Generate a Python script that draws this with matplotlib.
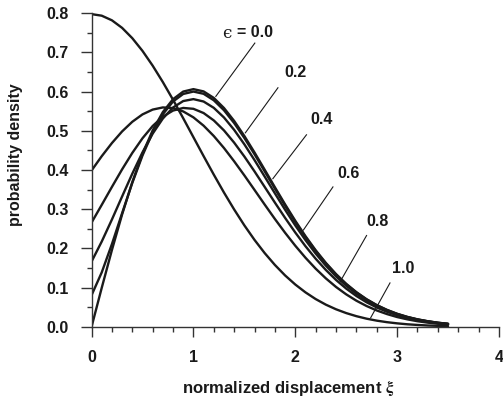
import matplotlib
matplotlib.use('Agg')
import matplotlib.pyplot as plt
from matplotlib.ticker import MultipleLocator

plt.rcParams['font.family'] = ['Liberation Sans', 'DejaVu Sans']
plt.rcParams['font.weight'] = 'bold'
plt.rcParams['mathtext.fontset'] = 'stix'

# normalized displacement grid
xi = [0.0, 0.1, 0.2, 0.3, 0.4, 0.5, 0.6, 0.7, 0.8, 0.9,
      1.0, 1.1, 1.2, 1.3, 1.4, 1.5, 1.6, 1.7, 1.8, 1.9,
      2.0, 2.1, 2.2, 2.3, 2.4, 2.5, 2.6, 2.7, 2.8, 2.9,
      3.0, 3.1, 3.2, 3.3, 3.4, 3.5]

# probability density, one list per epsilon
p_00 = [0.0, 0.0995, 0.1960, 0.2868, 0.3692, 0.4412, 0.5012, 0.5479, 0.5809, 0.6003,
        0.6065, 0.6007, 0.5841, 0.5584, 0.5254, 0.4870, 0.4449, 0.4008, 0.3562, 0.3125,
        0.2707, 0.2315, 0.1956, 0.1633, 0.1347, 0.1098, 0.0885, 0.0705, 0.0556, 0.0433,
        0.0333, 0.0254, 0.0191, 0.0143, 0.0105, 0.0077]
p_02 = [0.0806, 0.1389, 0.2111, 0.2899, 0.3672, 0.4371, 0.4962, 0.5423, 0.5750, 0.5942,
        0.6003, 0.5946, 0.5781, 0.5527, 0.5200, 0.4820, 0.4404, 0.3967, 0.3526, 0.3093,
        0.2679, 0.2291, 0.1936, 0.1616, 0.1333, 0.1087, 0.0876, 0.0698, 0.0550, 0.0429,
        0.0330, 0.0251, 0.0189, 0.0142, 0.0104, 0.0076]
p_04 = [0.1665, 0.2176, 0.2738, 0.3326, 0.3907, 0.4451, 0.4929, 0.5315, 0.5596, 0.5761,
        0.5810, 0.5749, 0.5588, 0.5342, 0.5026, 0.4658, 0.4255, 0.3833, 0.3407, 0.2989,
        0.2589, 0.2214, 0.1871, 0.1562, 0.1288, 0.1050, 0.0846, 0.0674, 0.0532, 0.0414,
        0.0318, 0.0243, 0.0183, 0.0137, 0.0100, 0.0074]
p_06 = [0.2660, 0.3112, 0.3570, 0.4018, 0.4437, 0.4811, 0.5124, 0.5363, 0.5518, 0.5585,
        0.5563, 0.5455, 0.5267, 0.5012, 0.4700, 0.4347, 0.3966, 0.3569, 0.3170, 0.2780,
        0.2407, 0.2058, 0.1739, 0.1452, 0.1197, 0.0976, 0.0787, 0.0627, 0.0494, 0.0385,
        0.0296, 0.0226, 0.0170, 0.0127, 0.0093, 0.0068]
p_08 = [0.3989, 0.4354, 0.4689, 0.4986, 0.5232, 0.5420, 0.5543, 0.5598, 0.5581, 0.5496,
        0.5345, 0.5133, 0.4869, 0.4563, 0.4224, 0.3865, 0.3493, 0.3119, 0.2752, 0.2401,
        0.2070, 0.1764, 0.1485, 0.1237, 0.1018, 0.0829, 0.0667, 0.0531, 0.0418, 0.0326,
        0.0250, 0.0191, 0.0143, 0.0107, 0.0079, 0.0058]
p_10 = [0.7979, 0.7939, 0.7821, 0.7628, 0.7365, 0.7041, 0.6664, 0.6245, 0.5794, 0.5322,
        0.4839, 0.4357, 0.3884, 0.3427, 0.2995, 0.2590, 0.2218, 0.1881, 0.1579, 0.1312,
        0.1080, 0.0880, 0.0709, 0.0566, 0.0448, 0.0351, 0.0272, 0.0208, 0.0158, 0.0119,
        0.0089, 0.0065, 0.0048, 0.0034, 0.0025, 0.0017]

curves = [p_00, p_02, p_04, p_06, p_08, p_10]
labels = ['= 0.0', '0.2', '0.4', '0.6', '0.8', '1.0']

# label text position and leader line (text end, curve end) in data units
label_pos = [(1.60, 0.750), (2.0, 0.650), (2.262, 0.528), (2.527, 0.390), (2.812, 0.268), (3.057, 0.148)]
leader = [((1.603, 0.724), (1.22, 0.588)),
          ((1.83, 0.610), (1.51, 0.495)),
          ((2.11, 0.490), (1.78, 0.378)),
          ((2.37, 0.357), (2.08, 0.247)),
          ((2.70, 0.233), (2.44, 0.115)),
          ((2.93, 0.112), (2.74, 0.023))]

fig = plt.figure(figsize=(5.03, 4.03), dpi=100)
ax = fig.add_axes([0.182, 0.189, 0.810, 0.778])

for p in curves:
    ax.plot(xi, p, color='#1a1a1a', lw=1.7, solid_capstyle='round')

for i in range(len(labels)):
    (x0, y0), (x1, y1) = leader[i]
    ax.plot([x0, x1], [y0, y1], color='#1a1a1a', lw=0.8)
    tx, ty = label_pos[i]
    ax.text(tx, ty, labels[i], ha='center', va='center', fontsize=11.5,
            fontweight='bold', color='#1a1a1a')

# epsilon symbol in front of the first label, not bold
ax.text(1.375, 0.749, '\u03f5', ha='right', va='center', fontsize=12,
        fontweight='normal', family=['DejaVu Serif'], color='#1a1a1a')

ax.set_xlim(0, 4)
ax.set_ylim(0, 0.8)
ax.xaxis.set_major_locator(MultipleLocator(1))
ax.xaxis.set_minor_locator(MultipleLocator(0.2))
ax.yaxis.set_major_locator(MultipleLocator(0.1))
ax.yaxis.set_minor_locator(MultipleLocator(0.05))
ax.xaxis.set_major_formatter(plt.FuncFormatter(lambda v, pos: '%d' % v))
ax.yaxis.set_major_formatter(plt.FuncFormatter(lambda v, pos: '%.1f' % v))

for s in ['top', 'right']:
    ax.spines[s].set_visible(False)
for s in ['left', 'bottom']:
    ax.spines[s].set_color('#333333')
    ax.spines[s].set_linewidth(1.0)

ax.tick_params(which='major', direction='out', length=8, width=1.0, color='#333333',
               labelsize=11.5, labelcolor='#1a1a1a')
ax.tick_params(which='minor', direction='out', length=3.8, width=1.0, color='#333333')
ax.tick_params(axis='y', which='major', pad=8.5)
ax.tick_params(axis='x', which='major', length=7.5, pad=9)

ax.set_xlabel(r'normalized displacement $\mathrm{\xi}$', fontsize=12, fontweight='bold', color='#1a1a1a')
ax.set_ylabel('probability density', fontsize=11.5, fontweight='bold', color='#1a1a1a')
ax.xaxis.set_label_coords(0.483, -0.165)
ax.yaxis.set_label_coords(-0.168, 0.55)

fig.savefig('out.png', dpi=100)
